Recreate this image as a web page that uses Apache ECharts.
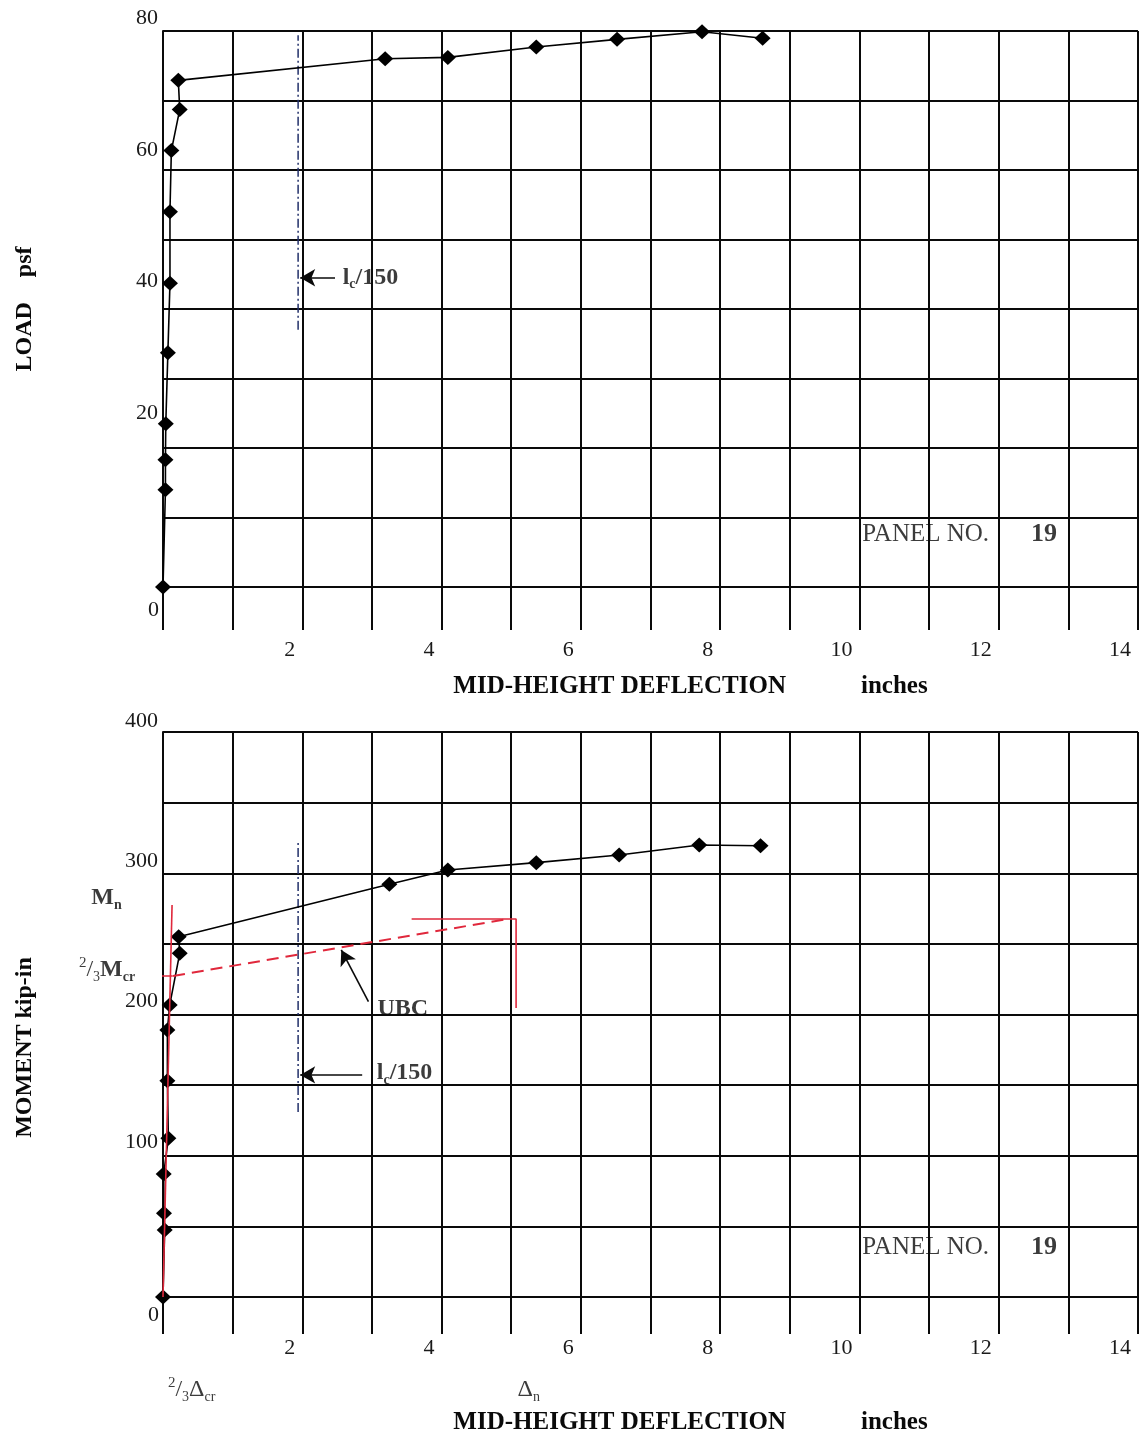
<!DOCTYPE html>
<html><head><meta charset="utf-8">
<script src="https://cdn.jsdelivr.net/npm/echarts/dist/echarts.min.js"></script>
<style>html,body{margin:0;padding:0;background:#fff}#c{width:1139px;height:1437px}</style>
</head><body><div id="c"></div>
<script>
// ---------- data ----------
const deflTicks = [2, 4, 6, 8, 10, 12, 14];
const loadTicks = [0, 20, 40, 60, 80];
const momentTicks = [0, 100, 200, 300, 400];

// Panel 19 – load vs mid-height deflection
const loadDefl = [0, 0.035, 0.035, 0.04, 0.07, 0.10, 0.10, 0.12, 0.24, 0.22, 3.19, 4.09, 5.36, 6.52, 7.74, 8.61];
const loadPsf  = [0, 14.0, 18.3, 23.5, 33.7, 43.7, 54.0, 62.8, 68.7, 72.9, 76.0, 76.2, 77.7, 78.8, 79.9, 78.95];

// Panel 19 – moment vs mid-height deflection
const momentDefl  = [0, 0.024, 0.014, 0.01, 0.077, 0.063, 0.063, 0.096, 0.24, 0.225, 3.25, 4.09, 5.36, 6.55, 7.70, 8.58];
const momentKipIn = [0, 47.4, 59.3, 87.1, 112.4, 153.1, 189.0, 206.7, 243.3, 255.1, 292.2, 302.3, 307.5, 312.9, 320.0, 319.5];

// reference lines
const lc150Defl = 1.94;
const lc150LoadRange = [37.0, 79.4];
const lc150MomentRange = [131, 323.5];
const loadBaseExt = [[-0.47, 0], [0, 0]];
const crackLine = [[0, 0], [0.13, 277.5]];
const mcrLevel = [[-0.39, 227.3], [0.14, 227.3]];
const ubcLine = [[0.145, 227.3], [4.95, 267.6]];
const deltaNBracket = [[3.57, 267.6], [5.07, 267.6], [5.07, 204.6]];

// ---------- styling ----------
const FONT = 'Liberation Serif';
const INK = '#0a0a0a';
const RED = '#e0283c';
const BLUE = '#22306a';
const zip = (a, b) => a.map((v, i) => [v, b[i]]);

const rich = {
  b:   {fontFamily: FONT, fontWeight: 'bold', fontSize: 24, color: INK},
  bs:  {fontFamily: FONT, fontWeight: 'bold', fontSize: 14, color: INK, padding: [14, 0, 0, 0]},
  r:   {fontFamily: FONT, fontSize: 24, color: INK},
  rs:  {fontFamily: FONT, fontSize: 14, color: INK, padding: [14, 0, 0, 0]},
  sup: {fontFamily: FONT, fontSize: 15, color: INK, padding: [0, 0, 14, 0]},
  p:   {fontFamily: FONT, fontSize: 25, color: INK},
  bb:  {fontFamily: FONT, fontWeight: 'bold', fontSize: 26, color: INK, padding: [0, 0, 0, 42]}
};

function mainX(gridIndex, labelMargin, nameGap, tickLen) {
  return {
    type: 'value', gridIndex, min: 0, max: 14, interval: 1,
    axisLine: {show: true, onZero: false, lineStyle: {color: INK, width: 2}},
    axisTick: {show: true, length: tickLen, lineStyle: {color: INK, width: 2}},
    splitLine: {show: true, lineStyle: {color: INK, width: 2}},
    axisLabel: {
      formatter: v => deflTicks.includes(v) ? String(v) : '',
      align: 'right', padding: [0, 7, 0, 0], margin: labelMargin,
      fontFamily: FONT, fontSize: 22, color: '#1a1a1a'
    },
    name: '{a|MID-HEIGHT DEFLECTION}{b|inches}',
    nameLocation: 'middle', nameGap,
    nameTextStyle: {
      padding: [0, 0, 0, 80],
      rich: {
        a: {fontFamily: FONT, fontWeight: 'bold', fontSize: 25, color: INK},
        b: {fontFamily: FONT, fontWeight: 'bold', fontSize: 25, color: INK, padding: [0, 0, 0, 75]}
      }
    }
  };
}
function hiddenX(gridIndex) {
  return {type: 'value', gridIndex, min: 0, max: 14, show: false};
}
function mainY(gridIndex, max, interval, zeroPad, name, namePad) {
  return {
    type: 'value', gridIndex, min: 0, max, interval,
    axisLine: {show: true, onZero: false, lineStyle: {color: INK, width: 2}},
    axisTick: {show: false},
    splitLine: {show: true, lineStyle: {color: INK, width: 2}},
    axisLabel: {
      formatter: v => v === 0 ? '0' : '',
      verticalAlign: 'top', padding: [zeroPad, 0, 0, 0], margin: 4,
      fontFamily: FONT, fontSize: 22, color: '#1a1a1a'
    },
    name, nameLocation: 'middle', nameGap: 126,
    nameTextStyle: {
      padding: namePad,
      rich: {
        a: {fontFamily: FONT, fontWeight: 'bold', fontSize: 24, color: INK},
        b: {fontFamily: FONT, fontWeight: 'bold', fontSize: 24, color: INK, padding: [0, 0, 0, 25]}
      }
    }
  };
}
function labelY(gridIndex, max, interval, ticks) {
  return {
    type: 'value', gridIndex, min: 0, max, interval,
    axisLine: {show: false}, axisTick: {show: false}, splitLine: {show: false},
    axisLabel: {
      formatter: v => (v !== 0 && ticks.includes(v)) ? String(v) : '',
      margin: 5, fontFamily: FONT, fontSize: 22, color: '#1a1a1a'
    }
  };
}

const dataLine = (xi, yi, data) => ({
  type: 'line', xAxisIndex: xi, yAxisIndex: yi, data,
  symbol: 'diamond', symbolSize: [16, 15], showSymbol: true,
  itemStyle: {color: '#000'}, lineStyle: {color: '#000', width: 1.6},
  z: 5, silent: true
});
const plainLine = (xi, yi, data, color, width, type, z) => ({
  type: 'line', xAxisIndex: xi, yAxisIndex: yi, data, symbol: 'none',
  lineStyle: {color, width, type}, clip: false, z: z || 4, silent: true
});
const arrow = (from, to) => [{coord: from}, {coord: to}];
const arrowMark = list => ({
  silent: true, symbol: ['none', 'arrow'], symbolSize: [13, 15],
  lineStyle: {color: INK, type: 'solid', width: 1.6},
  label: {show: false}, data: list
});
const textSeries = (xi, yi, data) => ({
  type: 'scatter', xAxisIndex: xi, yAxisIndex: yi, symbolSize: 0, clip: false, silent: true,
  label: {show: true, position: 'right', distance: 0, rich},
  data
});

const option = {
  animation: false,
  backgroundColor: '#fff',
  grid: [
    {left: 163, top: 31, width: 975, height: 556},
    {left: 163, top: 18, width: 975, height: 527},
    {left: 163, top: 732, width: 975, height: 565},
    {left: 163, top: 721, width: 975, height: 561}
  ],
  xAxis: [mainX(0, 52, 87, 43), hiddenX(1), mainX(2, 40, 113, 37), hiddenX(3)],
  yAxis: [
    mainY(0, 80, 10, 12, '{a|LOAD}{b|psf}', [0, 0, 0, 0]),
    labelY(1, 80, 20, loadTicks),
    mainY(2, 400, 50, 7, '{a|MOMENT kip-in}', [0, 66, 0, 0]),
    labelY(3, 400, 100, momentTicks)
  ],
  series: [
    // ---- top panel ----
    plainLine(0, 0, loadBaseExt, INK, 2, 'solid', 3),
    Object.assign(plainLine(0, 0, [[lc150Defl, lc150LoadRange[0]], [lc150Defl, lc150LoadRange[1]]], BLUE, 1.5, [9, 3, 2, 3], 3), {
      markLine: arrowMark([arrow([2.47, 44.5], [1.97, 44.5])])
    }),
    dataLine(0, 0, zip(loadDefl, loadPsf)),
    textSeries(0, 0, [
      {value: [2.58, 44.5], label: {formatter: '{b|l}{bs|c}{b|/150}'}},
      {value: [10.04, 7.63], label: {formatter: '{p|PANEL NO.}{bb|19}'}}
    ]),
    // ---- bottom panel ----
    Object.assign(plainLine(2, 2, [[lc150Defl, lc150MomentRange[0]], [lc150Defl, lc150MomentRange[1]]], BLUE, 1.5, [9, 3, 2, 3], 3), {
      markLine: arrowMark([
        arrow([2.86, 157.2], [1.97, 157.2]),
        arrow([2.95, 209.1], [2.56, 245.7])
      ])
    }),
    dataLine(2, 2, zip(momentDefl, momentKipIn)),
    plainLine(2, 2, crackLine, RED, 1.6, 'solid', 6),
    plainLine(2, 2, mcrLevel, RED, 1.6, 'solid', 6),
    plainLine(2, 2, ubcLine, RED, 2, [12, 7], 6),
    plainLine(2, 2, deltaNBracket, RED, 1.6, 'solid', 6),
    textSeries(2, 2, [
      {value: [3.07, 158.6], label: {formatter: '{b|l}{bs|c}{b|/150}'}},
      {value: [3.08, 203.9], label: {formatter: '{b|UBC}'}},
      {value: [10.04, 35.4], label: {formatter: '{p|PANEL NO.}{bb|19}'}},
      {value: [-1.03, 282.5], label: {formatter: '{b|M}{bs|n}'}},
      {value: [-0.40, 231.5], label: {position: 'left', formatter: '{sup|2}{r|/}{rs|3}{b|M}{bs|cr}'}},
      {value: [0.07, -65.8], label: {formatter: '{sup|2}{r|/}{rs|3}{r|Δ}{rs|cr}'}},
      {value: [5.09, -65.8], label: {formatter: '{r|Δ}{rs|n}'}}
    ])
  ]
};

const chart = echarts.init(document.getElementById('c'), null, {renderer: 'canvas'});
chart.setOption(option);
</script></body></html>
